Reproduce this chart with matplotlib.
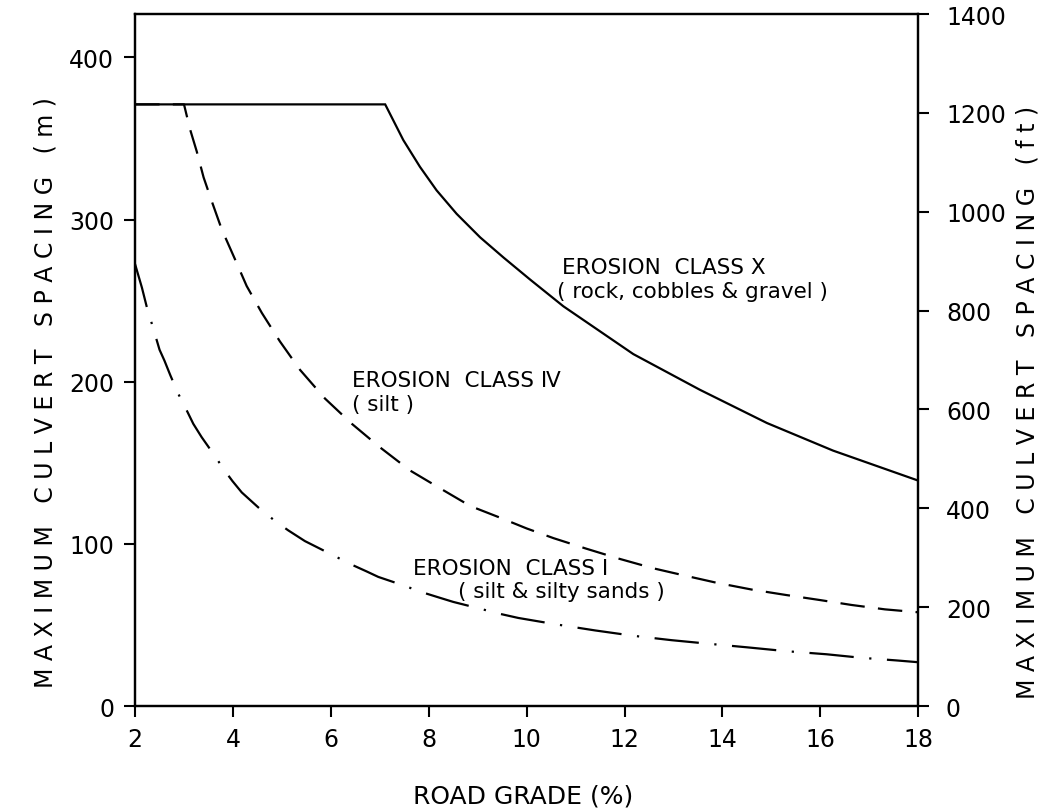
import matplotlib
matplotlib.use("Agg")
import matplotlib.pyplot as plt

# Road grade (%) and maximum culvert spacing (m)
grade_x = [2.0, 7.11, 7.48, 7.82, 8.16, 8.57, 9.05, 9.53, 10.07, 10.75, 12.18, 13.54, 14.91, 16.26, 18.0]
spacing_x = [371, 371, 349, 332.5, 318, 303.5, 289, 276.5, 263, 246.5, 217, 195, 174.5, 157.5, 139]

grade_iv = [2.0, 3.0, 3.12, 3.26, 3.40, 3.57, 3.77, 4.04, 4.28, 4.59, 4.96, 5.37, 5.88, 6.43,
            7.0, 7.62, 8.2, 8.85, 9.46, 10.0, 10.55, 11.21, 11.88, 12.59, 13.22, 13.88, 14.6,
            15.29, 15.98, 16.64, 17.32, 18.0]
spacing_iv = [371, 371, 356, 342, 326, 311, 294, 275.6, 259, 242.4, 224.8, 207.3, 189.6, 174,
              159.6, 145.2, 134.8, 123.3, 116.1, 109.5, 103.5, 97.1, 90.9, 84.9, 80.5, 76, 71.8,
              68.5, 65.4, 62.3, 59.6, 57.8]

grade_i = [2.0, 2.14, 2.24, 2.37, 2.50, 2.60, 2.72, 2.88, 3.07, 3.19, 3.36, 3.60, 3.83, 3.99,
           4.18, 4.52, 4.86, 5.13, 5.47, 5.95, 6.43, 6.73, 6.97, 7.45, 7.89, 8.22, 8.50, 9.05,
           9.46, 9.83, 10.61, 11.40, 12.18, 12.96, 13.75, 14.50, 15.31, 16.13, 16.85, 17.56, 18.0]
spacing_i = [272.5, 258, 246, 233, 219.7, 213, 204, 192.7, 181.4, 174, 165.8, 155.5, 145.2, 138.7,
             131.7, 122.4, 114.1, 108.3, 101.7, 94.4, 87.1, 83.0, 79.6, 74.7, 69.9, 66.8, 64.2, 60,
             56.8, 54.3, 50.3, 46.6, 43.3, 40.6, 38.3, 36.2, 33.8, 31.9, 29.7, 28.1, 27.0]

x_ticks = [2, 4, 6, 8, 10, 12, 14, 16, 18]
left_ticks = [0, 100, 200, 300, 400]
right_ticks = [0, 200, 400, 600, 800, 1000, 1200, 1400]
FT_TO_M = 0.3048


def spaced(s):
    return " ".join(s)


plt.rcParams['font.family'] = ['DejaVu Sans']
fig = plt.figure(figsize=(10.47, 8.12), dpi=100)
ax = fig.add_axes([0.129, 0.1293, 0.748, 0.8522])

ax.plot(grade_x, spacing_x, color='black', lw=1.6, solid_joinstyle='miter')
ax.plot(grade_iv, spacing_iv, color='black', lw=1.6, dashes=(11, 6))
ax.plot(grade_i, spacing_i, color='black', lw=1.6, dashes=(20, 7, 1, 7))

ax.set_xlim(2, 18)
ax.set_ylim(0, 1400 * FT_TO_M)
ax.set_xticks(x_ticks)
ax.set_xticklabels([str(v) for v in x_ticks])
ax.set_yticks(left_ticks)
ax.set_yticklabels([str(v) for v in left_ticks])
for s in ax.spines.values():
    s.set_linewidth(1.6)
ax.tick_params(axis='both', direction='out', length=8, width=1.5, labelsize=17, pad=7)

ax2 = ax.twinx()
ax2.set_ylim(0, 1400)
ax2.set_yticks(right_ticks)
ax2.set_yticklabels([str(v) for v in right_ticks])
ax2.tick_params(axis='y', direction='out', length=8, width=1.5, labelsize=17, pad=12)
for s in ax2.spines.values():
    s.set_linewidth(1.6)

fig.text(0.5, 0.0185, 'ROAD GRADE (%)', fontsize=18, ha='center', va='center')
fig.text(0.043, 0.517, spaced('MAXIMUM CULVERT SPACING (m)'), fontsize=17,
         rotation=90, ha='center', va='center')
fig.text(0.981, 0.504, spaced('MAXIMUM CULVERT SPACING (ft)'), fontsize=17,
         rotation=90, ha='center', va='center')

fs = 15.5
ax.text(10.72, 271, 'EROSION  CLASS Ⅹ', fontsize=fs, va='center', ha='left')
ax.text(10.62, 256, '( rock, cobbles & gravel )', fontsize=fs, va='center', ha='left')
ax.text(6.43, 201, 'EROSION  CLASS Ⅳ', fontsize=fs, va='center', ha='left')
ax.text(6.43, 186, '( silt )', fontsize=fs, va='center', ha='left')
ax.text(7.68, 85, 'EROSION  CLASS Ⅰ', fontsize=fs, va='center', ha='left')
ax.text(8.6, 71, '( silt & silty sands )', fontsize=fs, va='center', ha='left')

fig.savefig('out.png', dpi=100)
